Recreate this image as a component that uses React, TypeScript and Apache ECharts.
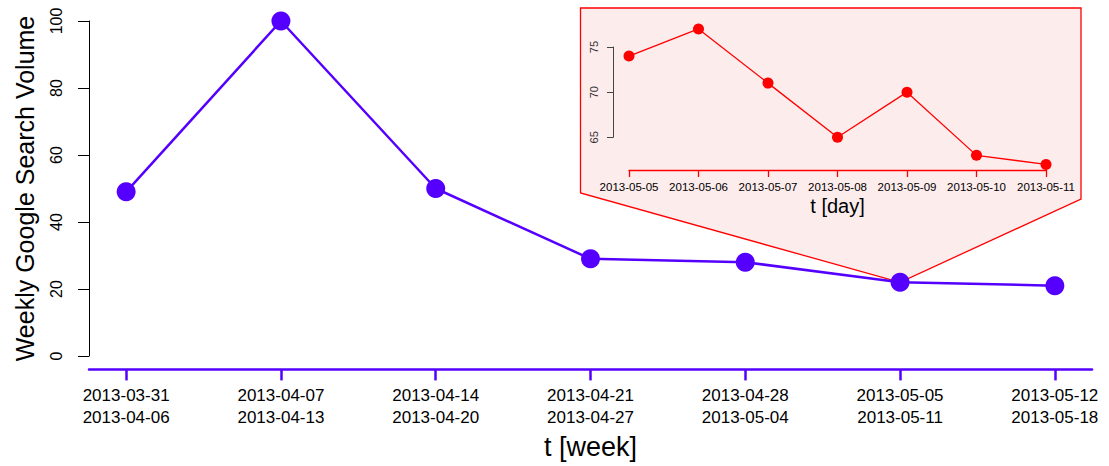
import React, { useEffect, useRef } from "react";
import * as echarts from "echarts";

const weekStarts = ["2013-03-31", "2013-04-07", "2013-04-14", "2013-04-21", "2013-04-28", "2013-05-05", "2013-05-12"];
const weekEnds = ["2013-04-06", "2013-04-13", "2013-04-20", "2013-04-27", "2013-05-04", "2013-05-11", "2013-05-18"];
const weeklyVolume = [49, 100, 50, 29, 28, 22, 21];
const days = ["2013-05-05", "2013-05-06", "2013-05-07", "2013-05-08", "2013-05-09", "2013-05-10", "2013-05-11"];
const dailyVolume = [74, 77, 71, 65, 70, 63, 62];
const zoomWeekIndex = 5;

const FONT = "'Liberation Sans', Arial, Helvetica, sans-serif";
const PURPLE = "#5500FF";
const RED = "#FF0000";

export default function App() {
  const ref = useRef<HTMLDivElement>(null);
  useEffect(() => {
    if (!ref.current) return;
    const chart = echarts.init(ref.current, undefined, { renderer: "svg" });
    const weekPositions = weekStarts.map((_, i) => i + 1);
    const option: any = {
      animation: false,
      backgroundColor: "#ffffff",
      textStyle: { fontFamily: FONT },
      grid: [
        { left: 89, top: 21, width: 1003, height: 335 },
        { left: 629, top: 47, width: 417, height: 90.3 },
      ],
      xAxis: [
        {
          type: "value",
          gridIndex: 0,
          min: 0.76,
          max: 7.24,
          offset: 13.4,
          splitLine: { show: false },
          axisLine: { show: true, onZero: false, lineStyle: { color: PURPLE, width: 2.5 } },
          axisTick: { show: true, length: 11, customValues: weekPositions, lineStyle: { color: PURPLE, width: 2.5 } },
          axisLabel: {
            customValues: weekPositions,
            formatter: (v: number) => {
              const i = Math.round(v) - 1;
              return weekStarts[i] + "\n" + weekEnds[i];
            },
            fontSize: 17,
            lineHeight: 22,
            color: "#000",
            fontFamily: FONT,
            margin: 15,
          },
          name: "t [week]",
          nameLocation: "middle",
          nameGap: 63,
          nameTextStyle: { fontSize: 27, color: "#000", fontFamily: FONT },
        },
        {
          type: "value",
          gridIndex: 1,
          min: 1,
          max: 7,
          interval: 1,
          offset: 32.7,
          z: 5,
          splitLine: { show: false },
          axisLine: { show: true, onZero: false, lineStyle: { color: RED, width: 1.3 } },
          axisTick: { show: true, length: 7, lineStyle: { color: RED, width: 1.3 } },
          axisLabel: {
            formatter: (v: number) => days[Math.round(v) - 1],
            fontSize: 11.5,
            color: "#000",
            fontFamily: FONT,
            margin: 11,
            showMinLabel: true,
            showMaxLabel: true,
          },
          name: "t [day]",
          nameLocation: "middle",
          nameGap: 26,
          nameTextStyle: { fontSize: 20, color: "#000", fontFamily: FONT },
        },
      ],
      yAxis: [
        {
          type: "value",
          gridIndex: 0,
          min: 0,
          max: 100,
          interval: 20,
          splitLine: { show: false },
          axisLine: { show: true, onZero: false, lineStyle: { color: "#000", width: 1 } },
          axisTick: { show: true, length: 11, lineStyle: { color: "#000", width: 1 } },
          axisLabel: { rotate: 90, fontSize: 16, color: "#000", fontFamily: FONT, margin: 25 },
          name: "Weekly Google Search Volume",
          nameLocation: "middle",
          nameGap: 52,
          nameTextStyle: { fontSize: 25, color: "#000", fontFamily: FONT },
        },
        {
          type: "value",
          gridIndex: 1,
          min: 65,
          max: 75,
          interval: 5,
          offset: 16,
          z: 5,
          splitLine: { show: false },
          axisLine: { show: true, onZero: false, lineStyle: { color: "#444", width: 1 } },
          axisTick: { show: true, length: 6, lineStyle: { color: "#444", width: 1 } },
          axisLabel: { rotate: 90, fontSize: 11, color: "#333", fontFamily: FONT, margin: 14 },
        },
      ],
      series: [
        {
          type: "line",
          xAxisIndex: 0,
          yAxisIndex: 0,
          data: weeklyVolume.map((v, i) => [i + 1, v]),
          clip: false,
          symbol: "circle",
          symbolSize: 19,
          itemStyle: { color: PURPLE },
          lineStyle: { color: PURPLE, width: 2.5 },
          z: 3,
        },
        {
          type: "line",
          xAxisIndex: 1,
          yAxisIndex: 1,
          data: dailyVolume.map((v, i) => [i + 1, v]),
          clip: false,
          symbol: "circle",
          symbolSize: 11,
          itemStyle: { color: RED },
          lineStyle: { color: RED, width: 1.3 },
          z: 6,
        },
      ],
    };
    chart.setOption(option);
    const apex = chart.convertToPixel({ xAxisIndex: 0, yAxisIndex: 0 }, [
      zoomWeekIndex + 1,
      weeklyVolume[zoomWeekIndex],
    ]) as number[];
    chart.setOption({
      graphic: [
        {
          type: "polygon",
          z: -1,
          shape: {
            points: [
              [580.5, 8],
              [1081, 8],
              [1081, 199],
              [apex[0], apex[1]],
              [580.5, 193],
            ],
          },
          style: { fill: "#FDECEC", stroke: RED, lineWidth: 1.3 },
        },
      ],
    });
    return () => chart.dispose();
  }, []);
  return (
    <div
      ref={ref}
      style={{ position: "fixed", left: 0, top: 0, width: 1109, height: 466, background: "#fff" }}
    />
  );
}
